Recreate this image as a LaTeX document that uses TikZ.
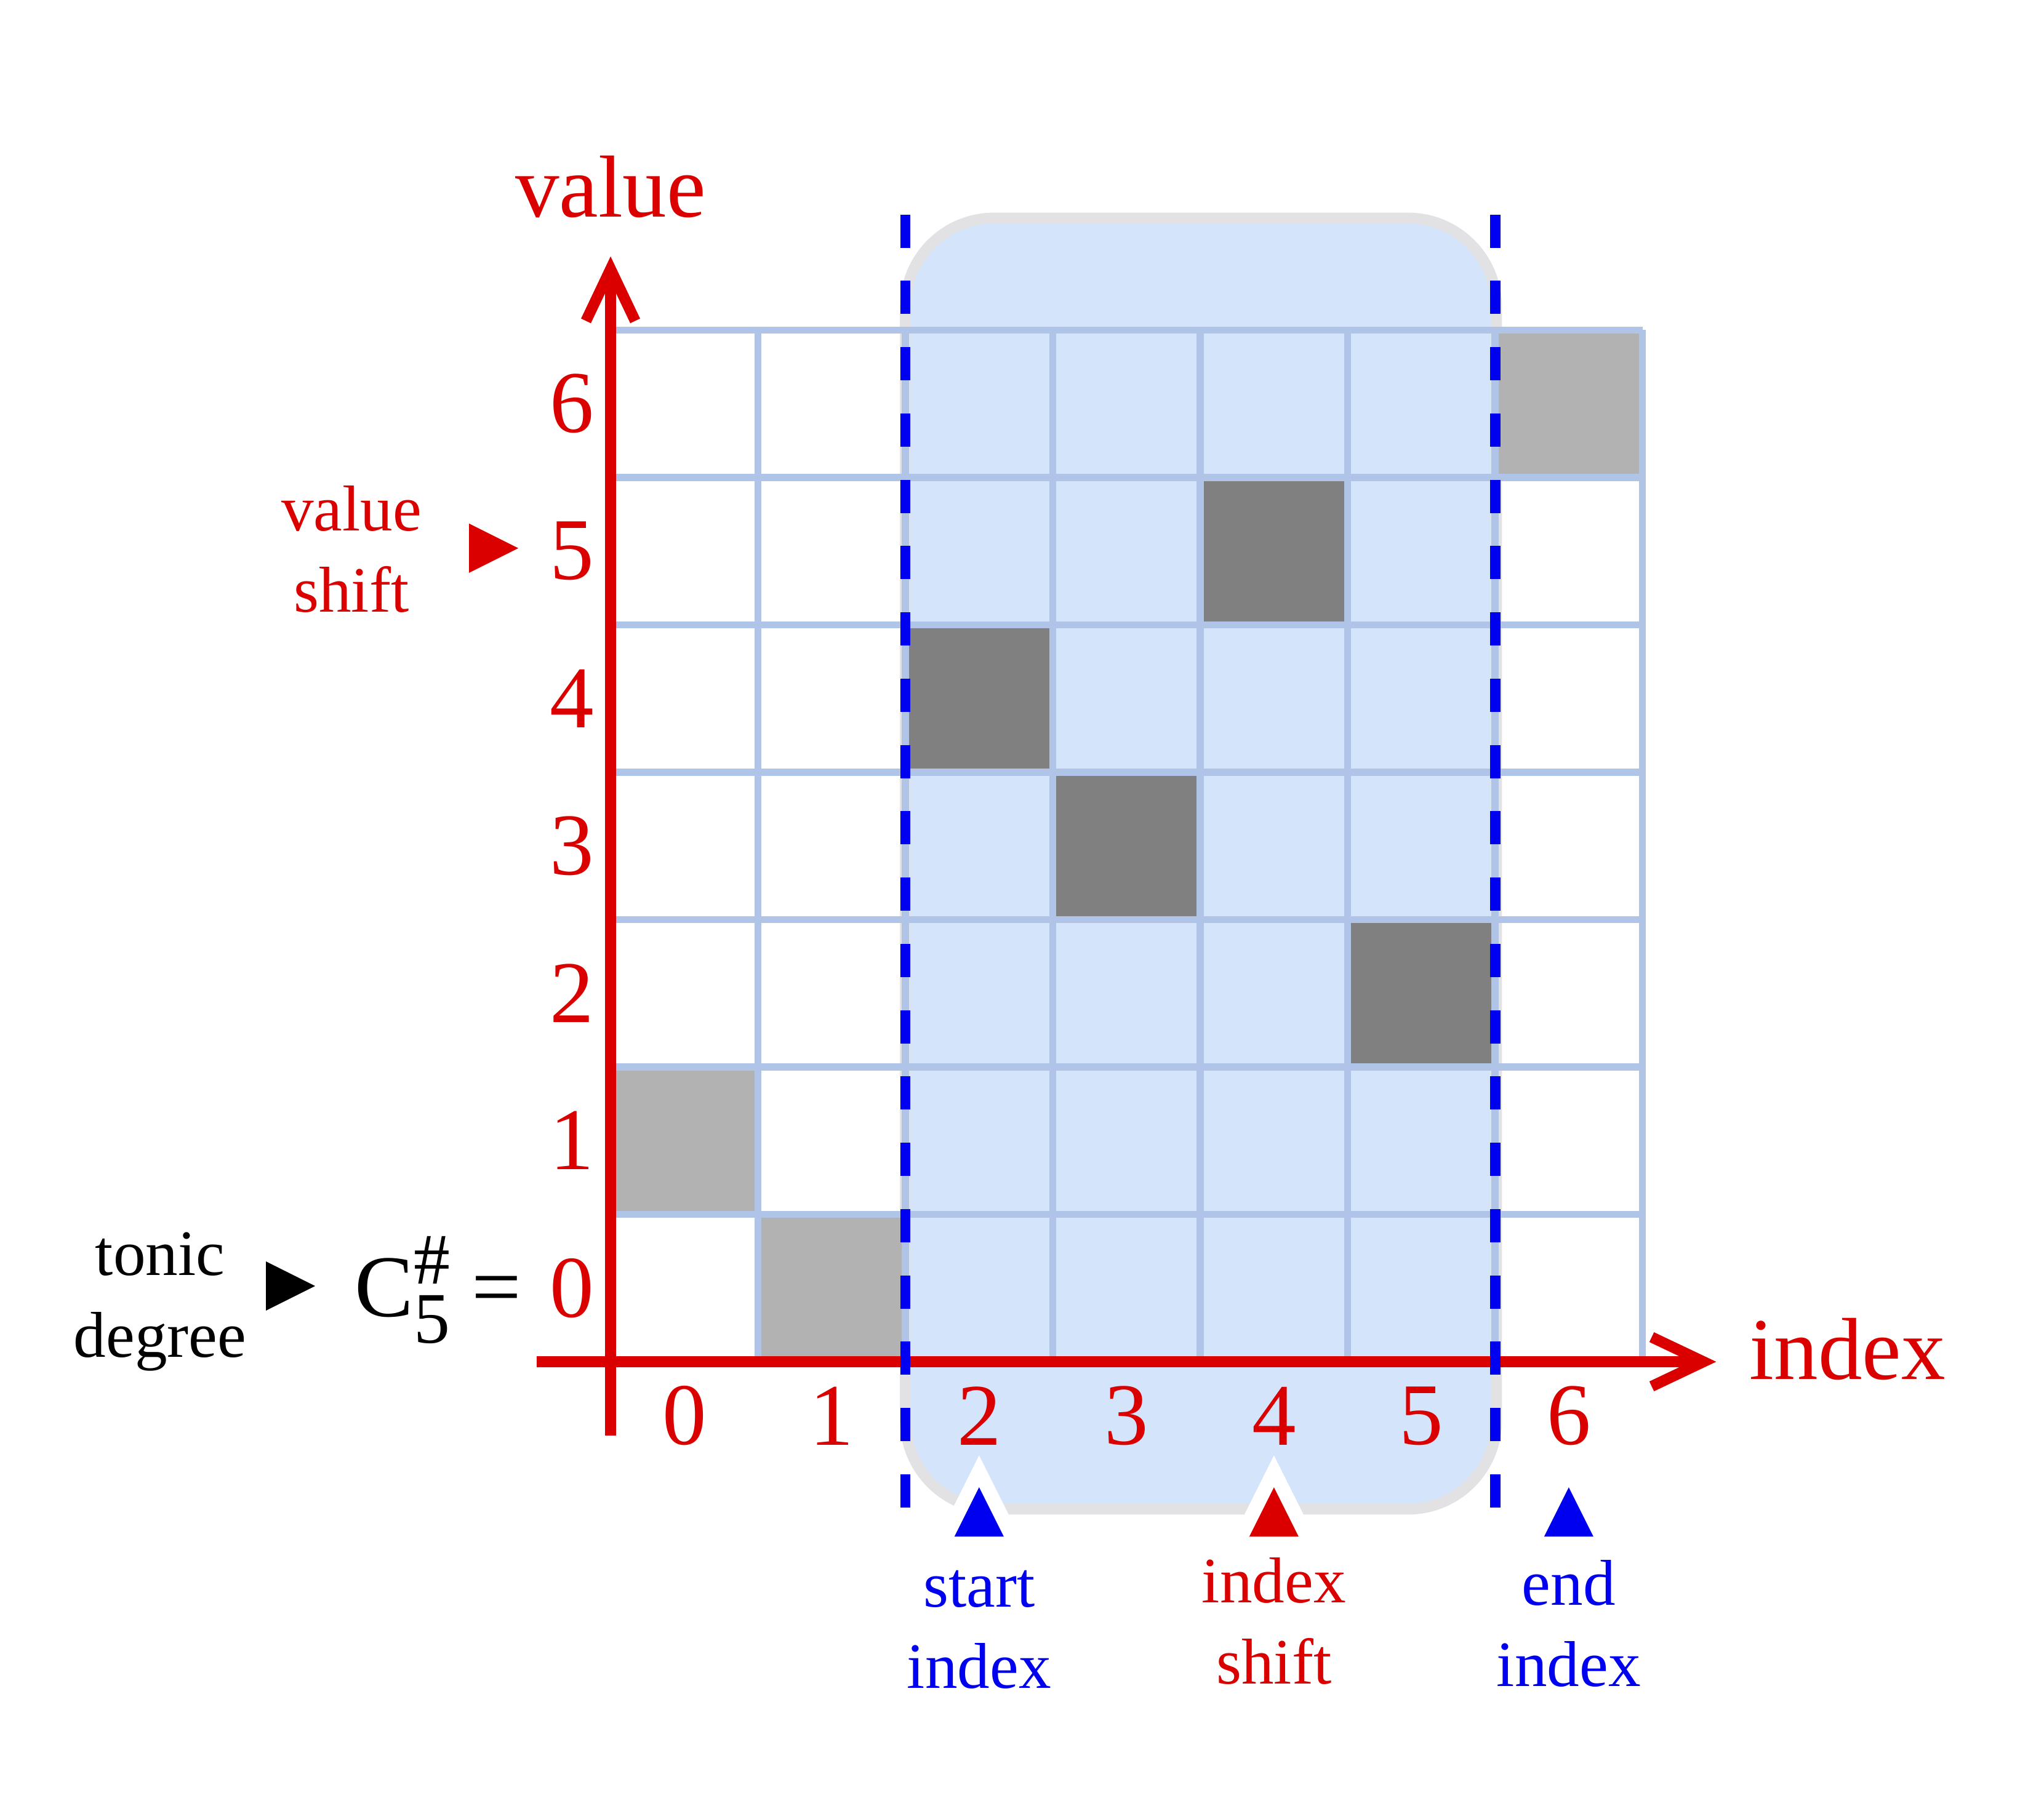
\documentclass[tikz,border=0pt]{standalone}
\usepackage{fontspec}
\setmainfont{Liberation Serif}
\usepackage{tikz}
\usetikzlibrary{arrows,arrows.meta,shapes,positioning,calc}

\definecolor{axisred}{RGB}{218,0,0}
\definecolor{markblue}{RGB}{0,0,240}
\definecolor{gridblue}{RGB}{176,196,232}
\definecolor{winfill}{RGB}{212,228,250}
\definecolor{winedge}{RGB}{226,226,228}
\definecolor{lightcell}{RGB}{178,178,178}
\definecolor{darkcell}{RGB}{128,128,128}

\newcommand{\bigtxt}{\fontsize{17}{20}\selectfont}
\newcommand{\smalltxt}{\fontsize{12.5}{15.7}\selectfont}
\newcommand{\scripttxt}{\fontsize{14}{14}\selectfont}

\begin{document}
\begin{tikzpicture}[
    axis/.style={axisred, line width=2.1pt, -{Straight Barb[length=10pt,width=9.5pt]}},
    gridline/.style={gridblue, line width=1.4pt},
    bound/.style={markblue, line width=2pt, dash pattern=on 6.4pt off 6.4pt},
    tick/.style={axisred, font=\bigtxt, inner sep=0pt},
    note/.style={font=\smalltxt, align=center, inner sep=0pt},
    marker/.style={preaction={draw=white, line width=5.5pt, line join=miter}}
]
    \useasboundingbox (-4.142,-2.956) rectangle (9.724,9.240);

    % Window between start and end index
    \filldraw[fill=winfill, draw=winedge, line width=2.1pt, rounded corners=0.6cm] (2,-1) rectangle (6.01,7.76);

    % Filled cells
    \foreach \x/\y in {0/1, 1/0, 6/6}
        \fill[lightcell] (\x,\y) rectangle ++(1,1);
    \foreach \x/\y in {2/4, 3/3, 4/5, 5/2}
        \fill[darkcell] (\x,\y) rectangle ++(1,1);

    % Grid
    \draw[gridline] (0,0) grid (7,7);

    % Markers under the index axis
    \foreach \x/\c in {2.5/markblue, 4.5/axisred, 6.5/markblue}
        \fill[\c, marker] (\x,-0.852) -- (\x+0.167,-1.186) -- (\x-0.167,-1.186) -- cycle;

    % Pointers on the left
    \fill[axisred] (-0.960,5.687) -- (-0.626,5.52) -- (-0.960,5.353) -- cycle;
    \fill[black] (-2.338,0.681) -- (-2.004,0.514) -- (-2.338,0.347) -- cycle;

    % Axes
    \coordinate (vbot) at (0,-0.5);
    \coordinate (vtop) at (0,7.5);
    \coordinate (ileft) at (-0.5,0);
    \coordinate (iright) at (7.5,0);
    \draw[axis] (vbot) -- (vtop);
    \draw[axis] (ileft) -- (iright);

    % Start and end index
    \foreach \x in {2,6}
        \draw[bound] (\x,7.784) -- (\x,-1.0);

    % Axis labels
    \node[tick, anchor=base] (vlab) at (0,7.77) {value};
    \node[tick, anchor=base west] (ilab) at (7.72,-0.117) {index};
    \foreach \i in {0,...,6} {
        \node[tick] (x\i) at (\i+0.5,-0.367) {\i};
        \node[tick] (y\i) at (-0.263,\i+0.5) {\i};
    }
    \node[font=\bigtxt, inner sep=0pt, anchor=base west] (tonic) at (-1.741,0.305)
        {C\rlap{\raisebox{6.3pt}{\scripttxt\#}}\raisebox{-5pt}{\scripttxt 5} =};

    % Notes (base is the last line)
    \node[note, axisred, anchor=base] (vshift) at (-1.758,5.086) {value\\shift};
    \node[note, anchor=base] (tdeg) at (-3.056,0.033) {tonic\\degree};
    \node[note, markblue, anchor=base] (sidx) at (2.5,-2.215) {start\\index};
    \node[note, axisred, anchor=base] (ishift) at (4.5,-2.186) {index\\shift};
    \node[note, markblue, anchor=base] (eidx) at (6.5,-2.203) {end\\index};

\end{tikzpicture}
\end{document}
